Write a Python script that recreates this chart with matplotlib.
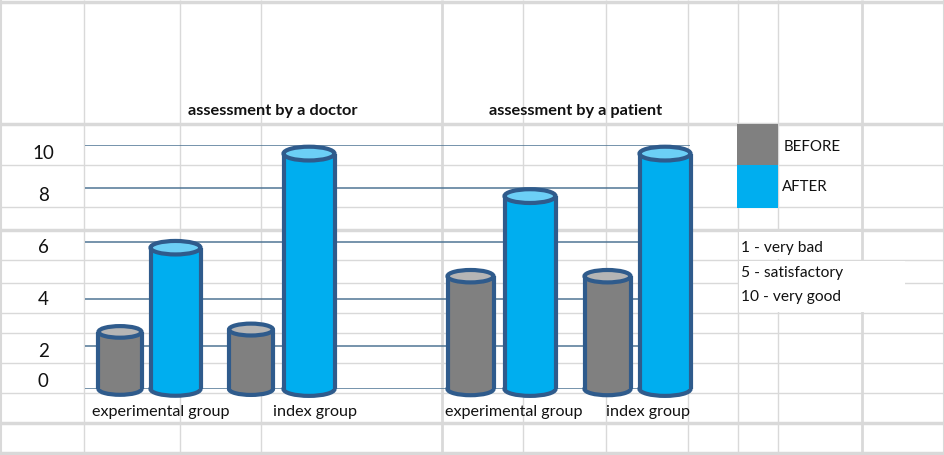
import numpy as np
import matplotlib
matplotlib.use("Agg")
import matplotlib.pyplot as plt
from matplotlib.patches import Ellipse, Rectangle
from matplotlib.transforms import ScaledTranslation

# ---------------- data ----------------
panels = ["assessment by a doctor", "assessment by a patient"]
groups = ["experimental group", "index group"]
doctor_before = [2.6, 2.7]
doctor_after = [5.8, 9.6]
patient_before = [4.8, 4.8]
patient_after = [7.7, 9.6]
tick_vals = [0, 2, 4, 6, 8, 10]
tick_labels = ["0", "2", "4", "6", "8", "10"]
legend_labels = ["BEFORE", "AFTER"]
notes = ["1 - very bad", "5 - satisfactory", "10 - very good"]

# ---------------- style ----------------
W, H = 945, 455
FONT = "Lato"
GRAY = "#808080"
GRAY_TOP = "#b5b5b5"
BLUE = "#00aeef"
BLUE_TOP = "#6ccff6"
EDGE = "#2f5b8c"
GRID_BLUE = "#4f7595"
SHEET = "#d9d9d9"

fig = plt.figure(figsize=(W / 100, H / 100), dpi=100)
bg = fig.add_axes([0, 0, 1, 1], zorder=0)
bg.set_xlim(0, W)
bg.set_ylim(H, 0)
bg.axis("off")

# spreadsheet grid
h_lines = [(2, 2.5), (124, 2.5), (165, 1), (207, 1), (230, 2.5), (260, 1), (283, 1),
           (313, 1), (333, 1), (363, 1), (393, 1), (423, 2.5), (453, 2.5)]
v_lines = [(1, 1.5), (84, 1), (180, 1), (261, 1), (442, 2), (523, 1), (606, 1),
           (688, 1), (738, 1), (778, 1), (862, 2), (944, 1.5)]
for y, lw in h_lines:
    bg.plot([0, W], [y, y], color=SHEET, lw=lw, zorder=0, solid_capstyle="butt")
for x, lw in v_lines:
    bg.plot([x, x], [0, H], color=SHEET, lw=lw, zorder=0, solid_capstyle="butt")
# white note cells
bg.add_patch(Rectangle((739, 231.5), 122, 27.5, facecolor="white", edgecolor="none", zorder=0.5))
bg.add_patch(Rectangle((739, 261), 166, 51, facecolor="white", edgecolor="none", zorder=0.5))

# legend squares
bg.add_patch(Rectangle((737, 124), 41, 41, facecolor=GRAY, edgecolor="none", zorder=1))
bg.add_patch(Rectangle((737, 165), 41, 43, facecolor=BLUE, edgecolor="none", zorder=1))
bg.text(784, 147, legend_labels[0], fontsize=10.8, family=FONT, va="center", ha="left", color="#111")
bg.text(782, 187, legend_labels[1], fontsize=10.8, family=FONT, va="center", ha="left", color="#111")
for y, t in zip([248, 273, 297], notes):
    bg.text(741, y, t, fontsize=11.2, family=FONT, va="center", ha="left", color="#111")

# panel titles and group labels
for cx, t in zip([273, 576], panels):
    bg.text(cx, 111, t, fontsize=11.8, family=FONT, weight="bold", va="center", ha="center", color="#111")
for x, t in zip([92, 273, 445, 606], groups * 2):
    bg.text(x, 412, t, fontsize=11.6, family=FONT, va="center", ha="left", color="#111")

# ---------------- data axes with the chart's (non-uniform) value scale ----------------
tick_px = np.array([0, 43, 90, 147, 201, 244], dtype=float)  # height above the 0 line
tv = np.array(tick_vals, dtype=float)


def fwd(v):
    v = np.asarray(v, dtype=float)
    out = np.interp(v, tv, tick_px)
    out = np.where(v < tv[0], (v - tv[0]) * 21.5 + tick_px[0], out)
    out = np.where(v > tv[-1], (v - tv[-1]) * 21.5 + tick_px[-1], out)
    return out


def inv(p):
    p = np.asarray(p, dtype=float)
    out = np.interp(p, tick_px, tv)
    out = np.where(p < tick_px[0], (p - tick_px[0]) / 21.5 + tv[0], out)
    out = np.where(p > tick_px[-1], (p - tick_px[-1]) / 21.5 + tv[-1], out)
    return out


def px_rect(l, t, r, b):
    return [l / W, 1 - b / H, (r - l) / W, (b - t) / H]


ax = fig.add_axes(px_rect(85, 145, 690, 389), zorder=2)
ax.patch.set_alpha(0)
ax.set_xlim(85, 690)
ax.set_yscale("function", functions=(fwd, inv))
ax.set_ylim(0, 10)
for s in ax.spines.values():
    s.set_visible(False)
ax.set_xticks([])
ax.set_yticks(tick_vals, tick_labels)
ax.tick_params(axis="y", length=0, pad=30, labelsize=13.5, labelcolor="#111")
# labels sit in spreadsheet cells, slightly off their lines (pixels, + = down)
label_shift = [-9, 4, -1, 4, 6, 7]
for tick, dy in zip(ax.yaxis.get_major_ticks(), label_shift):
    lab = tick.label1
    lab.set_ha("center")
    lab.set_family(FONT)
    lab.set_transform(lab.get_transform() + ScaledTranslation(0, -dy / 100, fig.dpi_scale_trans))
for v in tick_vals:
    ax.axhline(v, color=GRID_BLUE, lw=1.1, zorder=1)


def cylinder(xc, w, v, face, top):
    h = w * 0.27
    ax.add_patch(Ellipse((0, 0), w, h, facecolor=face, edgecolor=EDGE, lw=3,
                         transform=ScaledTranslation(xc, 0, ax.transData), zorder=3, clip_on=False))
    ax.add_patch(Rectangle((xc - w / 2, 0), w, v, facecolor=face, edgecolor="none",
                           zorder=4, clip_on=False))
    for xs in (xc - w / 2, xc + w / 2):
        ax.plot([xs, xs], [0, v], color=EDGE, lw=3, zorder=5, clip_on=False, solid_capstyle="butt")
    ax.add_patch(Ellipse((0, 0), w, h, facecolor=top, edgecolor=EDGE, lw=3,
                         transform=ScaledTranslation(xc, v, ax.transData), zorder=6, clip_on=False))


# bar centres (x) and widths per panel
layout = [
    (doctor_before, doctor_after, [(120, 43), (251, 44)], [(175.5, 50), (309, 51)]),
    (patient_before, patient_after, [(470.5, 46), (607.5, 46)], [(530, 51), (665, 51)]),
]
for before, after, bpos, apos in layout:
    for val, (xc, w) in zip(before, bpos):
        cylinder(xc, w, val, GRAY, GRAY_TOP)
    for val, (xc, w) in zip(after, apos):
        cylinder(xc, w, val, BLUE, BLUE_TOP)

fig.savefig("out.png", dpi=100)
